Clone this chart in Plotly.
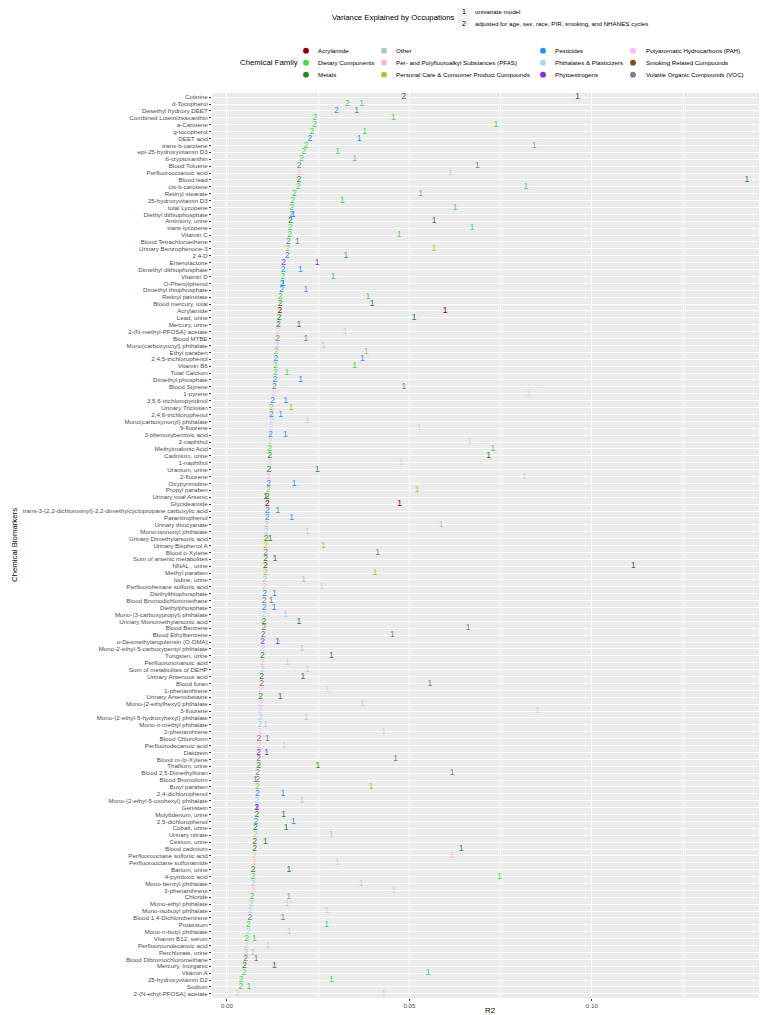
import plotly.graph_objects as go

# ---------------- data ----------------
biomarkers = [
    "Cotinine", "d-Tocopherol", "Desethyl hydroxy DEET", "Combined Lutein/zeaxanthin", "a-Carotene",
    "g-tocopherol", "DEET acid", "trans-b-carotene", "epi-25-hydroxyvitamin D3", "b-cryptoxanthin",
    "Blood Toluene", "Perfluorooctanoic acid", "Blood lead", "cis-b-carotene", "Retinyl stearate",
    "25-hydroxyvitamin D3", "total Lycopene", "Diethyl dithiophosphate", "Antimony, urine", "trans-lycopene",
    "Vitamin C", "Blood Tetrachloroethene", "Urinary Benzophenone-3", "2,4-D", "Enterolactone",
    "Dimethyl dithiophosphate", "Vitamin D", "O-Phenylphenol", "Dimethyl thiophosphate", "Retinyl palmitate",
    "Blood mercury, total", "Acrylamide", "Lead, urine", "Mercury, urine", "2-(N-methyl-PFOSA) acetate",
    "Blood MTBE", "Mono(carboxyoctyl) phthalate", "Ethyl paraben", "2,4,5-trichlorophenol", "Vitamin B6",
    "Total Calcium", "Dimethyl phosphate", "Blood Styrene", "1-pyrene", "3,5,6-trichloropyridinol",
    "Urinary Triclosan", "2,4,6-trichlorophenol", "Mono(carboxynonyl) phthalate", "9-fluorene", "3-phenoxybenzoic acid",
    "2-naphthol", "Methylmalonic Acid", "Cadmium, urine", "1-naphthol", "Uranium, urine",
    "2-fluorene", "Oxypyrimidine", "Propyl paraben", "Urinary total Arsenic", "Glycideamide",
    "trans-3-(2,2-dichlorovinyl)-2,2-dimethylcyclopropane carboxylic acid", "Paranitrophenol", "Urinary thiocyanate",
    "Mono-isononyl phthalate", "Urinary Dimethylarsonic acid",
    "Urinary Bisphenol A", "Blood o-Xylene", "Sum of arsenic metabolites", "NNAL , urine", "Methyl paraben",
    "Iodine, urine", "Perfluorohexane sulfonic acid", "Diethylthiophosphate", "Blood Bromodichloromethane", "Diethylphosphate",
    "Mono-(3-carboxypropyl) phthalate", "Urinary Monomethylarsonic acid", "Blood Benzene", "Blood Ethylbenzene",
    "o-Desmethylangolensin (O-DMA)",
    "Mono-2-ethyl-5-carboxypentyl phthalate", "Tungsten, urine", "Perfluorononanoic acid", "Sum of metabolites of DEHP",
    "Urinary Arsenous acid",
    "Blood furan", "1-phenanthrene", "Urinary Arsenobetaine", "Mono-(2-ethylhexyl) phthalate", "3-fluorene",
    "Mono-(2-ethyl-5-hydroxyhexyl) phthalate", "Mono-n-methyl phthalate", "2-phenanthrene", "Blood Chloroform",
    "Perfluorodecanoic acid",
    "Daidzein", "Blood m-/p-Xylene", "Thallium, urine", "Blood 2,5-Dimethylfuran", "Blood Bromoform",
    "Butyl paraben", "2,4-dichlorophenol", "Mono-(2-ethyl-5-oxohexyl) phthalate", "Genistein", "Molybdenum, urine",
    "2,5-dichlorophenol", "Cobalt, urine", "Urinary nitrate", "Cesium, urine", "Blood cadmium",
    "Perfluorooctane sulfonic acid", "Perfluorooctane sulfonamide", "Barium, urine", "4-pyridoxic acid",
    "Mono-benzyl phthalate",
    "3-phenanthrene", "Chloride", "Mono-ethyl phthalate", "Mono-isobutyl phthalate", "Blood 1,4-Dichlorobenzene",
    "Potassium", "Mono-n-butyl phthalate", "Vitamin B12, serum", "Perfluoroundecanoic acid", "Perchlorate, urine",
    "Blood Dibromochloromethane", "Mercury, Inorganic", "Vitamin A", "25-hydroxyvitamin D2", "Sodium",
    "2-(N-ethyl-PFOSA) acetate",
]

family = [
    "Smoking Related Compounds", "Dietary Components", "Pesticides", "Dietary Components", "Dietary Components",
    "Dietary Components", "Pesticides", "Dietary Components", "Dietary Components", "Dietary Components",
    "Volatile Organic Compounds (VOC)", "Per- and Polyfluoroalkyl Substances (PFAS)", "Metals", "Dietary Components", "Dietary Components",
    "Dietary Components", "Dietary Components", "Pesticides", "Metals", "Dietary Components",
    "Dietary Components", "Volatile Organic Compounds (VOC)", "Personal Care & Consumer Product Compounds", "Pesticides", "Phytoestrogens",
    "Pesticides", "Dietary Components", "Pesticides", "Pesticides", "Dietary Components",
    "Metals", "Acrylamide", "Metals", "Metals", "Per- and Polyfluoroalkyl Substances (PFAS)",
    "Volatile Organic Compounds (VOC)", "Phthalates & Plasticizers", "Personal Care & Consumer Product Compounds", "Pesticides", "Dietary Components",
    "Dietary Components", "Pesticides", "Volatile Organic Compounds (VOC)", "Polyaromatic Hydrocarbons (PAH)", "Pesticides",
    "Personal Care & Consumer Product Compounds", "Pesticides", "Phthalates & Plasticizers", "Polyaromatic Hydrocarbons (PAH)", "Pesticides",
    "Polyaromatic Hydrocarbons (PAH)", "Dietary Components", "Metals", "Polyaromatic Hydrocarbons (PAH)", "Metals",
    "Polyaromatic Hydrocarbons (PAH)", "Pesticides", "Personal Care & Consumer Product Compounds", "Metals", "Acrylamide",
    "Pesticides", "Pesticides", "Other",
    "Phthalates & Plasticizers", "Metals",
    "Personal Care & Consumer Product Compounds", "Volatile Organic Compounds (VOC)", "Metals", "Smoking Related Compounds", "Personal Care & Consumer Product Compounds",
    "Other", "Per- and Polyfluoroalkyl Substances (PFAS)", "Pesticides", "Volatile Organic Compounds (VOC)", "Pesticides",
    "Phthalates & Plasticizers", "Metals", "Volatile Organic Compounds (VOC)", "Volatile Organic Compounds (VOC)",
    "Phytoestrogens",
    "Phthalates & Plasticizers", "Metals", "Per- and Polyfluoroalkyl Substances (PFAS)", "Phthalates & Plasticizers",
    "Metals",
    "Volatile Organic Compounds (VOC)", "Polyaromatic Hydrocarbons (PAH)", "Metals", "Phthalates & Plasticizers", "Polyaromatic Hydrocarbons (PAH)",
    "Phthalates & Plasticizers", "Phthalates & Plasticizers", "Polyaromatic Hydrocarbons (PAH)", "Volatile Organic Compounds (VOC)",
    "Per- and Polyfluoroalkyl Substances (PFAS)",
    "Phytoestrogens", "Volatile Organic Compounds (VOC)", "Metals", "Volatile Organic Compounds (VOC)", "Volatile Organic Compounds (VOC)",
    "Personal Care & Consumer Product Compounds", "Pesticides", "Phthalates & Plasticizers", "Phytoestrogens", "Metals",
    "Pesticides", "Metals", "Other", "Metals", "Metals",
    "Per- and Polyfluoroalkyl Substances (PFAS)", "Per- and Polyfluoroalkyl Substances (PFAS)", "Metals", "Dietary Components",
    "Phthalates & Plasticizers",
    "Polyaromatic Hydrocarbons (PAH)", "Dietary Components", "Phthalates & Plasticizers", "Phthalates & Plasticizers", "Volatile Organic Compounds (VOC)",
    "Dietary Components", "Phthalates & Plasticizers", "Dietary Components", "Per- and Polyfluoroalkyl Substances (PFAS)", "Other",
    "Volatile Organic Compounds (VOC)", "Metals", "Dietary Components", "Dietary Components", "Dietary Components",
    "Per- and Polyfluoroalkyl Substances (PFAS)",
]

# model 1: univariate
r2_univariate = [
    0.0961, 0.0369, 0.0355, 0.0456, 0.0737, 0.0377, 0.0362, 0.0842, 0.0303, 0.0350,
    0.0686, 0.0613, 0.1425, 0.0819, 0.0531, 0.0316, 0.0625, 0.0182, 0.0568, 0.0672,
    0.0472, 0.0193, 0.0567, 0.0326, 0.0247, 0.0201, 0.0291, 0.0154, 0.0216, 0.0386,
    0.0398, 0.0598, 0.0513, 0.0197, 0.0324, 0.0216, 0.0264, 0.0382, 0.0371, 0.0350,
    0.0164, 0.0202, 0.0485, 0.0827, 0.0161, 0.0176, 0.0147, 0.0221, 0.0527, 0.0160,
    0.0664, 0.0729, 0.0717, 0.0477, 0.0248, 0.0815, 0.0184, 0.0521, 0.0106, 0.0473,
    0.0139, 0.0177, 0.0587, 0.0220, 0.0118, 0.0264, 0.0413, 0.0131, 0.1114, 0.0406,
    0.0210, 0.0260, 0.0130, 0.0121, 0.0129, 0.0160, 0.0197, 0.0661, 0.0453, 0.0139,
    0.0206, 0.0286, 0.0166, 0.0221, 0.0208, 0.0556, 0.0275, 0.0146, 0.0371, 0.0851,
    0.0217, 0.0105, 0.0430, 0.0111, 0.0158, 0.0109, 0.0462, 0.0249, 0.0617, 0.0078,
    0.0395, 0.0153, 0.0206, 0.0082, 0.0155, 0.0182, 0.0162, 0.0286, 0.0105, 0.0642,
    0.0617, 0.0303, 0.0170, 0.0747, 0.0367, 0.0457, 0.0169, 0.0164, 0.0273, 0.0153,
    0.0273, 0.0170, 0.0075, 0.0113, 0.0071, 0.0080, 0.0130, 0.0551, 0.0286, 0.0060,
    0.0430,
]

# model 2: adjusted for age, sex, race, PIR, smoking, and NHANES cycles
r2_adjusted = [
    0.0485, 0.0330, 0.0300, 0.0241, 0.0240, 0.0233, 0.0227, 0.0217, 0.0210, 0.0204,
    0.0198, 0.0198, 0.0197, 0.0196, 0.0185, 0.0180, 0.0177, 0.0177, 0.0174, 0.0173,
    0.0172, 0.0168, 0.0166, 0.0165, 0.0155, 0.0154, 0.0153, 0.0151, 0.0150, 0.0146,
    0.0146, 0.0145, 0.0143, 0.0141, 0.0139, 0.0139, 0.0137, 0.0135, 0.0134, 0.0133,
    0.0133, 0.0131, 0.0130, 0.0129, 0.0125, 0.0122, 0.0122, 0.0122, 0.0121, 0.0119,
    0.0118, 0.0117, 0.0117, 0.0117, 0.0115, 0.0114, 0.0114, 0.0113, 0.0111, 0.0111,
    0.0111, 0.0110, 0.0109, 0.0107, 0.0107, 0.0106, 0.0106, 0.0106, 0.0105, 0.0105,
    0.0103, 0.0103, 0.0103, 0.0102, 0.0102, 0.0101, 0.0101, 0.0101, 0.0099, 0.0098,
    0.0098, 0.0097, 0.0097, 0.0097, 0.0095, 0.0095, 0.0092, 0.0092, 0.0092, 0.0091,
    0.0091, 0.0090, 0.0090, 0.0088, 0.0088, 0.0087, 0.0087, 0.0087, 0.0084, 0.0084,
    0.0083, 0.0083, 0.0082, 0.0082, 0.0082, 0.0079, 0.0078, 0.0078, 0.0076, 0.0076,
    0.0075, 0.0075, 0.0072, 0.0072, 0.0072, 0.0071, 0.0068, 0.0067, 0.0063, 0.0063,
    0.0059, 0.0058, 0.0054, 0.0054, 0.0052, 0.0051, 0.0048, 0.0047, 0.0039, 0.0038,
    0.0030,
]

families = [
    "Acrylamide", "Dietary Components", "Metals",
    "Other", "Per- and Polyfluoroalkyl Substances (PFAS)", "Personal Care & Consumer Product Compounds",
    "Pesticides", "Phthalates & Plasticizers", "Phytoestrogens",
    "Polyaromatic Hydrocarbons (PAH)", "Smoking Related Compounds", "Volatile Organic Compounds (VOC)",
]
family_colors = [
    "#8B0000", "#44D944", "#228B22",
    "#BEBEBE", "#FFB6C1", "#9ACD32",
    "#1E90FF", "#A8D2F0", "#8A2BE2",
    "#FFB8F8", "#8B4513", "#7F7F7F",
]
model_labels = ["1", "2"]
model_names = ["univariate model", "adjusted for age, sex, race, PIR, smoking, and NHANES cycles"]

# ---------------- figure geometry ----------------
# The page body has an 8px margin; the figure is sized so it fills the 767x1015 window.
OFF = 8
W, H = 767 - OFF, 1015 - OFF
ML, MR, MT, MB = 212 - OFF, 0, 93 - OFF, 1015 - 998
PW, PH = W - ML - MR, H - MT - MB
FONT = "Liberation Sans, Arial, sans-serif"


def px(x):  # page x -> paper x
    return (x - OFF - ML) / PW


def py(y):  # page y -> paper y
    return (H - MB - (y - OFF)) / PH


fig = go.Figure()
color_of = dict(zip(families, family_colors))

for fam in families:
    idx = [i for i, f in enumerate(family) if f == fam]
    if not idx:
        continue
    for lab, vals in zip(model_labels, [r2_univariate, r2_adjusted]):
        fig.add_trace(go.Scatter(
            x=[vals[i] for i in idx],
            y=[biomarkers[i] for i in idx],
            mode="text",
            text=[lab] * len(idx),
            textposition="middle center",
            textfont=dict(family=FONT, size=8.5, color=color_of[fam]),
            showlegend=False,
            hoverinfo="skip",
            cliponaxis=True,
        ))

n = len(biomarkers)
fig.update_layout(
    width=W, height=H,
    margin=dict(l=ML, r=MR, t=MT, b=MB, pad=0),
    paper_bgcolor="white",
    plot_bgcolor="#EBEBEB",
    font=dict(family=FONT, color="#4D4D4D"),
    showlegend=False,
    xaxis=dict(
        range=[-0.0041, 0.148],
        tickvals=[0.0, 0.05, 0.10],
        ticktext=["0.00", "0.05", "0.10"],
        ticks="outside", ticklen=2, tickcolor="#333333", tickwidth=0.8,
        tickfont=dict(size=6.2, color="#4D4D4D"),
        showgrid=True, gridcolor="white", gridwidth=1,
        minor=dict(tickvals=[0.025, 0.075, 0.125], showgrid=True, gridcolor="white", gridwidth=0.5, ticks=""),
        zeroline=False, showline=False, automargin=False,
    ),
    yaxis=dict(
        type="category",
        categoryorder="array", categoryarray=biomarkers,
        tickmode="array", tickvals=biomarkers, ticktext=biomarkers,
        range=[n - 1 + 0.6, -0.6],
        ticks="outside", ticklen=2, tickcolor="#333333", tickwidth=0.8,
        tickfont=dict(size=6.2, color="#4D4D4D"),
        showgrid=True, gridcolor="white", gridwidth=1,
        zeroline=False, showline=False, automargin=False,
    ),
)

ann = []
shapes = []

# axis titles
ann.append(dict(text="R2", x=px(490), y=py(1010), xref="paper", yref="paper", showarrow=False,
                xanchor="center", yanchor="middle", font=dict(size=7.8, color="black")))
ann.append(dict(text="Chemical Biomarkers", x=px(14), y=py(545), xref="paper", yref="paper", showarrow=False,
                textangle=-90, xanchor="center", yanchor="middle", font=dict(size=7.8, color="black")))

# legend 1: models
ann.append(dict(text="Variance Explained by Occupations", x=px(330), y=py(17.5), xref="paper", yref="paper",
                showarrow=False, xanchor="left", yanchor="middle", font=dict(size=7.8, color="black")))
for k, (lab, name) in enumerate(zip(model_labels, model_names)):
    yc = 11.5 + 12 * k
    shapes.append(dict(type="rect", xref="paper", yref="paper", x0=px(457), x1=px(470),
                       y0=py(yc - 6), y1=py(yc + 6), fillcolor="#F2F2F2", line=dict(color="white", width=1)))
    ann.append(dict(text=lab, x=px(463.5), y=py(yc), xref="paper", yref="paper", showarrow=False,
                    xanchor="center", yanchor="middle", font=dict(size=7.2, color="black")))
    ann.append(dict(text=name, x=px(473), y=py(yc), xref="paper", yref="paper", showarrow=False,
                    xanchor="left", yanchor="middle", font=dict(size=6.2, color="black")))

# legend 2: chemical family (filled by column, 3 rows)
ann.append(dict(text="Chemical Family", x=px(238), y=py(62.7), xref="paper", yref="paper",
                showarrow=False, xanchor="left", yanchor="middle", font=dict(size=7.8, color="black")))
dot_x = [306, 384, 543, 633]
txt_x = [316, 394, 553, 644]
for j, (fam, col) in enumerate(zip(families, family_colors)):
    c, r = j // 3, j % 3
    yc = 50.7 + 12 * r
    rad = 2.9
    shapes.append(dict(type="circle", xref="paper", yref="paper",
                       x0=px(dot_x[c] - rad), x1=px(dot_x[c] + rad),
                       y0=py(yc + rad), y1=py(yc - rad), fillcolor=col, line=dict(width=0)))
    ann.append(dict(text=fam, x=px(txt_x[c]), y=py(yc), xref="paper", yref="paper", showarrow=False,
                    xanchor="left", yanchor="middle", font=dict(size=6.2, color="black")))

fig.update_layout(annotations=ann, shapes=shapes)
fig.write_html("out.html")
